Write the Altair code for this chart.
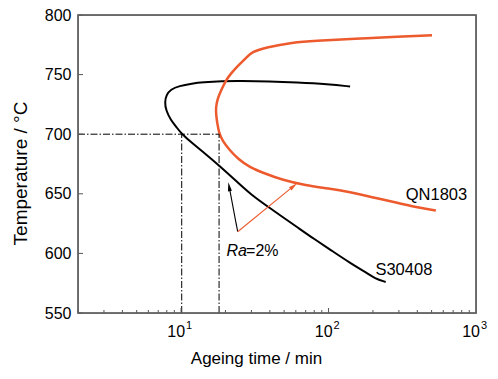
import altair as alt
import pandas as pd

# --- data ---
s304_t = [140, 100, 60, 40, 25, 19, 14, 11.9, 9.7, 8.5, 7.95, 7.75, 7.9, 8.5, 9.3, 10, 12, 14.5, 18, 24, 30, 40, 63, 80, 106, 140, 180, 206, 244]
s304_T = [740, 742, 743.5, 744.3, 744.6, 744.5, 743.5, 742.5, 740.5, 737.5, 733, 727, 720, 712, 706, 700.8, 692, 684, 674, 660, 649, 638, 621, 612, 602, 592, 584, 579, 576]

qn_t = [503, 300, 150, 80, 57, 38, 30, 27.7, 24, 21.5, 20.2, 18.7, 17.6, 17.2, 17.3, 17.6, 18.1, 19, 21.2, 24.5, 29, 37, 48.6, 70, 100, 139, 200, 304, 400, 534]
qn_T = [783, 782, 780, 778.5, 777, 773, 769, 764, 757, 750, 745.5, 737, 729, 722, 716, 709, 701, 695, 687, 679, 672.5, 667, 661.6, 657, 654.5, 651.5, 647, 642, 638.5, 636]

ref_T = 700
ref_t_start = 2
ref_t_s304 = 10.1
ref_t_qn = 18.1
T_min = 550

arrow_origin = (24.2, 618.2)
arrow_black_tip = (21.2, 655.8)
arrow_orange_tip = (57.9, 656.4)

x_domain = [2, 1000]
y_domain = [550, 800]
x_major = [10, 100, 1000]
x_major_base = ["10", "10", "10"]
x_major_exp = ["1", "2", "3"]
x_minor = [2, 3, 4, 5, 6, 7, 8, 9, 20, 30, 40, 50, 60, 70, 80, 90, 200, 300, 400, 500, 600, 700, 800, 900]
y_ticks = [550, 600, 650, 700, 750, 800]

ORANGE = "#EC5A2D"
FONT = "Liberation Sans"
FRAME = "#606060"
W, H = 398, 298

xs = alt.Scale(type="log", domain=x_domain, nice=False)
ys = alt.Scale(domain=y_domain, nice=False, zero=False)

x_axis = alt.Axis(values=x_major, grid=False, ticks=False, domain=False, labels=False,
                  title="Ageing time / min", titleFont=FONT, titleFontSize=17,
                  titleFontWeight="normal", titleColor="black",
                  titleX=178, titleY=50, titleBaseline="alphabetic", titleAlign="center")
y_axis = alt.Axis(values=y_ticks, grid=False, ticks=False, domain=False,
                  labelFont=FONT, labelFontSize=16, labelColor="black", labelPadding=7,
                  title="Temperature / °C", titleFont=FONT, titleFontSize=19,
                  titleFontWeight="normal", titleColor="black",
                  titleX=-52, titleY=158, titleBaseline="alphabetic", titleAlign="center")

def X(f):
    return alt.X(f, type="quantitative", scale=xs, axis=x_axis)

def Y(f):
    return alt.Y(f, type="quantitative", scale=ys, axis=y_axis)

s304 = pd.DataFrame({"t": s304_t, "T": s304_T, "o": range(len(s304_t))})
qn = pd.DataFrame({"t": qn_t, "T": qn_T, "o": range(len(qn_t))})

# plot frame as a rectangle outline through the scales at the domain limits
frame_df = pd.DataFrame({"t": [x_domain[0]], "t2": [x_domain[1]], "T": [y_domain[0]], "T2": [y_domain[1]]})
frame = alt.Chart(frame_df).mark_rect(filled=False, stroke=FRAME, strokeWidth=1.4, fillOpacity=0, clip=False).encode(
    x=X("t"), x2="t2", y=Y("T"), y2="T2")

line_s304 = alt.Chart(s304).mark_line(color="black", strokeWidth=2, interpolate="basis").encode(
    x=X("t"), y=Y("T"), order="o:Q")
line_qn = alt.Chart(qn).mark_line(color=ORANGE, strokeWidth=2.5, interpolate="basis").encode(
    x=X("t"), y=Y("T"), order="o:Q")

dash = [7, 2, 1.5, 2]
hline = alt.Chart(pd.DataFrame({"t": [ref_t_start], "t2": [ref_t_qn], "T": [ref_T]})).mark_rule(
    color="black", strokeWidth=1, strokeDash=dash).encode(x=X("t"), x2="t2", y=Y("T"))
vlines = alt.Chart(pd.DataFrame({"t": [ref_t_s304, ref_t_qn], "T": [T_min, T_min], "T2": [ref_T, ref_T]})).mark_rule(
    color="black", strokeWidth=1, strokeDash=dash).encode(x=X("t"), y=Y("T"), y2="T2")

arrows = pd.DataFrame({
    "t": [arrow_origin[0], arrow_origin[0]], "T": [arrow_origin[1], arrow_origin[1]],
    "t2": [arrow_black_tip[0], arrow_orange_tip[0]], "T2": [arrow_black_tip[1], arrow_orange_tip[1]],
    "c": ["black", ORANGE]})
arrow_lines = alt.Chart(arrows).mark_rule(strokeWidth=1.1).encode(
    x=X("t"), y=Y("T"), x2="t2", y2="T2", color=alt.Color("c:N", scale=None))
head_shape = "M0,-1L0.42,0.9L-0.42,0.9Z"
head_b = alt.Chart(pd.DataFrame({"t": [arrow_black_tip[0]], "T": [arrow_black_tip[1]]})).mark_point(
    shape=head_shape, filled=True, size=90, color="black", opacity=1, angle=350).encode(x=X("t"), y=Y("T"))
head_o = alt.Chart(pd.DataFrame({"t": [arrow_orange_tip[0]], "T": [arrow_orange_tip[1]]})).mark_point(
    shape=head_shape, filled=True, size=90, color=ORANGE, opacity=1, angle=51).encode(x=X("t"), y=Y("T"))

ra = alt.Chart(pd.DataFrame({"t": [20.3], "T": [602]})).mark_text(
    text="Ra", font=FONT, fontSize=16, fontStyle="italic", align="left",
    baseline="middle", color="black").encode(x=X("t"), y=Y("T"))
ra2 = alt.Chart(pd.DataFrame({"t": [27.6], "T": [602]})).mark_text(
    text="=2%", font=FONT, fontSize=16, align="left",
    baseline="middle", color="black").encode(x=X("t"), y=Y("T"))
lab_s = alt.Chart(pd.DataFrame({"t": [208], "T": [586]})).mark_text(
    text="S30408", font=FONT, fontSize=16.5, align="left", baseline="middle", color="black").encode(x=X("t"), y=Y("T"))
lab_q = alt.Chart(pd.DataFrame({"t": [334], "T": [649]})).mark_text(
    text="QN1803", font=FONT, fontSize=16.5, align="left", baseline="middle", color="black").encode(x=X("t"), y=Y("T"))

ytk = alt.Chart(pd.DataFrame({"T": y_ticks})).mark_rule(color="#555", strokeWidth=1).encode(
    y=Y("T"), x=alt.value(0), x2=alt.value(5))
xtk_major = alt.Chart(pd.DataFrame({"t": x_major[:-1]})).mark_rule(color="#555", strokeWidth=1).encode(
    x=X("t"), y=alt.value(H), y2=alt.value(H - 5))
xtk_minor = alt.Chart(pd.DataFrame({"t": x_minor})).mark_rule(color="#555", strokeWidth=1).encode(
    x=X("t"), y=alt.value(H), y2=alt.value(H - 3))

xlab_df = pd.DataFrame({"t": x_major, "b": x_major_base, "e": x_major_exp})
xlab_base = alt.Chart(xlab_df).mark_text(font=FONT, fontSize=16, align="right", baseline="alphabetic",
                                         dx=4, color="black", clip=False).encode(
    x=X("t"), y=alt.value(H + 24), text="b:N")
xlab_exp = alt.Chart(xlab_df).mark_text(font=FONT, fontSize=11, align="left", baseline="alphabetic",
                                        dx=5, color="black", clip=False).encode(
    x=X("t"), y=alt.value(H + 16), text="e:N")

chart = alt.layer(line_s304, line_qn, hline, vlines, arrow_lines, head_b, head_o, ra, ra2, lab_s, lab_q,
                  ytk, xtk_major, xtk_minor, xlab_base, xlab_exp, frame).properties(
    width=W, height=H,
    autosize=alt.AutoSizeParams(type="none"),
    padding={"left": 70, "top": 7, "right": 14, "bottom": 58},
    background="white",
).configure_view(stroke=FRAME, strokeWidth=1.4)

chart.save("out.html", embed_options={"renderer": "svg", "actions": False})
